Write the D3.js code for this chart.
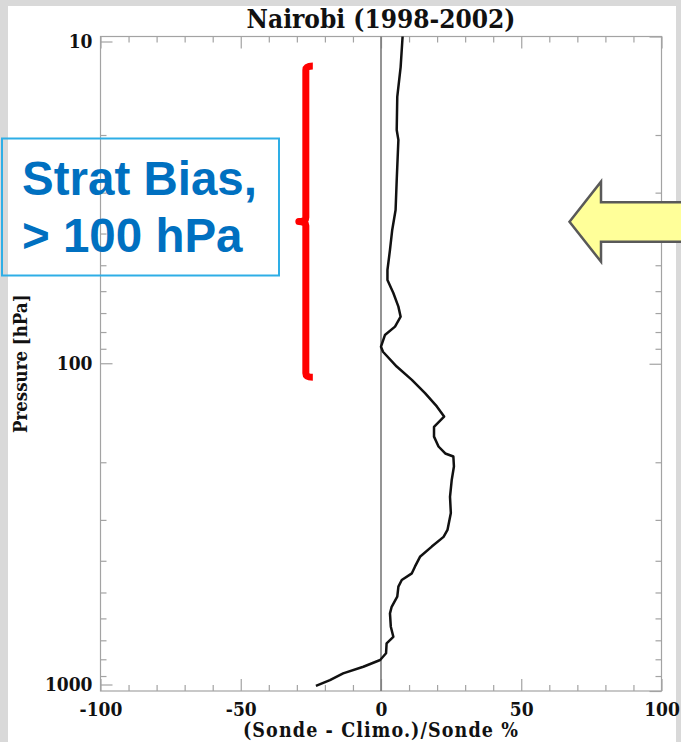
<!DOCTYPE html>
<html>
<head>
<meta charset="utf-8">
<script src="https://cdn.jsdelivr.net/npm/d3@7"></script>
<style>
  html, body { margin: 0; padding: 0; background: #d9d9d9; }
  svg { display: block; }
</style>
</head>
<body>
<script>
// Ozone sonde vs. climatology relative bias profile, Nairobi 1998-2002
const pressure = [10, 12.4, 15.3, 19.3, 20.7, 27.5, 33.9, 39.0, 44.9, 51.7,
  55.5, 60.8, 66.9, 71.8, 77.0, 81.7, 88.7, 91.9, 102, 112,
  123, 135, 145, 156, 167, 179, 188, 192, 206, 227,
  255, 286, 322, 338, 362, 389, 417, 437, 458, 480,
  515, 553, 579, 636, 683, 715, 767, 804, 843, 883,
  926, 965];
const bias = [7.7, 7.0, 5.8, 5.6, 6.2, 5.6, 5.2, 4.0, 3.2, 2.3,
  2.3, 4.4, 6.2, 7.0, 5.0, 1.4, 0.0, 0.7, 5.6, 11.0,
  15.7, 19.9, 22.5, 18.9, 18.9, 20.5, 22.9, 25.8, 26.0, 25.2,
  24.6, 24.9, 23.7, 22.3, 18.1, 13.9, 12.1, 11.0, 7.4, 6.2,
  5.8, 3.8, 3.2, 3.5, 4.4, 2.0, 1.8, -0.3, -6.3, -13.5,
  -18.2, -23.2];

const xTicks = [-100, -50, 0, 50, 100];
const xMinorTicks = d3.range(-100, 101, 10);
const yTicks = [10, 100, 1000];
const yMinorTicks = [20, 30, 40, 50, 60, 70, 80, 90, 200, 300, 400, 500, 600, 700, 800, 900];

// annotation: stratospheric range bracket (hPa) and its label
const bracketRange = [12.3, 110];
const bracketX = -26.8;
const noteLines = ["Strat Bias,", "> 100 hPa"];

const W = 681, H = 742;
const plot = { left: 100.5, right: 661.5, top: 36.5, bottom: 691 };

const svg = d3.select("body").append("svg").attr("width", W).attr("height", H);

// page background
svg.append("rect").attr("width", W).attr("height", H).attr("fill", "#d9d9d9");
svg.append("rect").attr("x", 8).attr("y", 6).attr("width", 668).attr("height", H - 6).attr("fill", "#ffffff");

const x = d3.scaleLinear().domain([-100, 100]).range([plot.left, plot.right]);
const y = d3.scaleLog().domain([10, 1000]).range([plot.top, plot.bottom]);

const serif = "'DejaVu Serif Condensed', 'DejaVu Serif', serif";
const axisColor = "#a3a3a3";
const plain = d => String(d);

// frame
svg.append("rect")
  .attr("x", plot.left).attr("y", plot.top)
  .attr("width", plot.right - plot.left).attr("height", plot.bottom - plot.top)
  .attr("fill", "none").attr("stroke", axisColor).attr("stroke-width", 1.2);

// axes with inward ticks
function styleAxis(g) {
  g.select(".domain").remove();
  g.selectAll(".tick line").attr("stroke", axisColor).attr("stroke-width", 1.2);
  g.selectAll(".tick text")
    .attr("fill", "#111")
    .style("font-family", serif)
    .style("font-weight", "bold")
    .style("font-stretch", "condensed")
    .style("font-size", "19px");
}

svg.append("g").attr("transform", `translate(0,${plot.bottom})`)
  .call(d3.axisBottom(x).tickValues(xTicks).tickSize(-12).tickPadding(12).tickFormat(plain))
  .call(styleAxis);
svg.append("g").attr("transform", `translate(0,${plot.bottom})`)
  .call(d3.axisBottom(x).tickValues(xMinorTicks.filter(v => !xTicks.includes(v))).tickSize(-6).tickFormat(""))
  .call(styleAxis);
svg.append("g").attr("transform", `translate(0,${plot.top})`)
  .call(d3.axisTop(x).tickValues(xTicks).tickSize(-12).tickFormat(""))
  .call(styleAxis);
svg.append("g").attr("transform", `translate(0,${plot.top})`)
  .call(d3.axisTop(x).tickValues(xMinorTicks.filter(v => !xTicks.includes(v))).tickSize(-6).tickFormat(""))
  .call(styleAxis);

const leftAxis = svg.append("g").attr("transform", `translate(${plot.left},0)`)
  .call(d3.axisLeft(y).tickValues(yTicks).tickSize(-12).tickPadding(8).tickFormat(plain))
  .call(styleAxis);
// keep end labels inside the frame height
leftAxis.selectAll(".tick").attr("transform", d => {
  const yy = Math.min(Math.max(y(d), plot.top + 5.5), plot.bottom - 6);
  return `translate(0,${yy})`;
});
svg.append("g").attr("transform", `translate(${plot.left},0)`)
  .call(d3.axisLeft(y).tickValues(yMinorTicks).tickSize(-6).tickFormat(""))
  .call(styleAxis);
svg.append("g").attr("transform", `translate(${plot.right},0)`)
  .call(d3.axisRight(y).tickValues(yTicks).tickSize(-12).tickFormat(""))
  .call(styleAxis);
svg.append("g").attr("transform", `translate(${plot.right},0)`)
  .call(d3.axisRight(y).tickValues(yMinorTicks).tickSize(-6).tickFormat(""))
  .call(styleAxis);

// zero reference line
svg.append("line")
  .attr("x1", x(0)).attr("x2", x(0))
  .attr("y1", plot.top).attr("y2", plot.bottom)
  .attr("stroke", "#7a7a7a").attr("stroke-width", 1.6);

// bias profile
const profile = pressure.map((p, i) => ({ p, v: bias[i] }));
svg.append("path")
  .datum(profile)
  .attr("fill", "none")
  .attr("stroke", "#111")
  .attr("stroke-width", 2.5)
  .attr("stroke-linejoin", "round")
  .attr("d", d3.line().x(d => x(d.v)).y(d => y(d.p)));

// title and axis titles
svg.append("text")
  .attr("x", x(0)).attr("y", 28)
  .attr("text-anchor", "middle")
  .style("font-family", serif).style("font-weight", "bold").style("font-stretch", "condensed")
  .style("font-size", "26px").attr("fill", "#111")
  .text("Nairobi (1998-2002)");

svg.append("text")
  .attr("x", x(0)).attr("y", 737)
  .attr("text-anchor", "middle")
  .style("font-family", serif).style("font-weight", "bold").style("font-stretch", "condensed")
  .style("font-size", "19.5px").style("letter-spacing", "1.1px").attr("fill", "#111")
  .text("(Sonde - Climo.)/Sonde %");

svg.append("text")
  .attr("transform", `translate(27,${y(100)}) rotate(-90)`)
  .attr("text-anchor", "middle")
  .style("font-family", serif).style("font-weight", "bold").style("font-stretch", "condensed")
  .style("font-size", "18.5px").attr("fill", "#111")
  .text("Pressure [hPa]");

// red brace marking the stratospheric range (squarish ends, small centre point)
const bx = x(bracketX);
const bTop = y(bracketRange[0]), bBot = y(bracketRange[1]);
const bMid = y(Math.sqrt(bracketRange[0] * bracketRange[1]));
const hook = 7, r = 4;
svg.append("path")
  .attr("d", [
    `M${bx + hook},${bTop}`,
    `Q${bx},${bTop} ${bx},${bTop + r}`,
    `L${bx},${bMid - r}`,
    `Q${bx},${bMid} ${bx - hook},${bMid}`,
    `Q${bx},${bMid} ${bx},${bMid + r}`,
    `L${bx},${bBot - r}`,
    `Q${bx},${bBot} ${bx + hook},${bBot}`
  ].join(" "))
  .attr("fill", "none").attr("stroke", "#ff0000").attr("stroke-width", 7)
  .attr("stroke-linejoin", "round");

// label box
svg.append("rect")
  .attr("x", 2).attr("y", 138.5).attr("width", 277).attr("height", 137)
  .attr("fill", "none").attr("stroke", "#2eaee6").attr("stroke-width", 2);
svg.selectAll("text.note").data(noteLines).join("text")
  .attr("class", "note")
  .attr("x", 22).attr("y", (d, i) => 195 + i * 57)
  .style("font-family", "'Liberation Sans', Arial, sans-serif")
  .style("font-weight", "bold").style("font-size", "47.5px")
  .attr("fill", "#0070c0")
  .text(d => d);

// pointer arrow
const arrow = [[569.5, 221.7], [601, 181.7], [601, 202.3], [690, 202.3], [690, 241.7], [601, 241.7], [601, 261.7]];
svg.append("path")
  .attr("d", d3.line()(arrow) + "Z")
  .attr("fill", "#ffff99").attr("stroke", "#595959").attr("stroke-width", 2.5)
  .attr("stroke-linejoin", "miter");
</script>
</body>
</html>
